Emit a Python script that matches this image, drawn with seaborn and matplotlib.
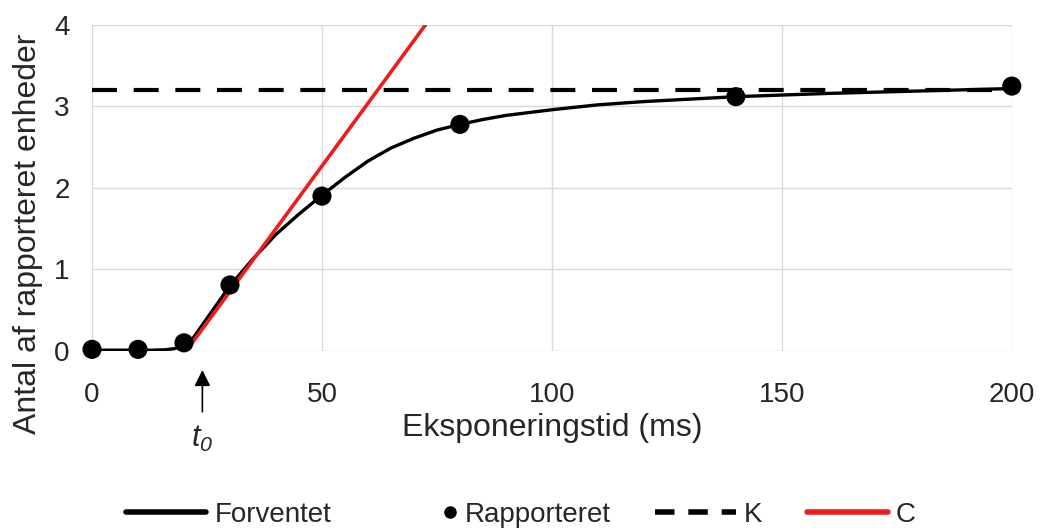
import numpy as np
import pandas as pd
import matplotlib
matplotlib.use("Agg")
import matplotlib.pyplot as plt
from matplotlib.lines import Line2D
from matplotlib.legend_handler import HandlerLine2D
import seaborn as sns

# === Données ===
rap_t = [0, 10, 20, 30, 50, 80, 140, 200]
rap_n = [0.02, 0.02, 0.1, 0.81, 1.9, 2.78, 3.12, 3.25]

forv_t = [0, 5, 10, 13, 16, 18, 20, 22, 25, 28, 30, 35, 40, 45, 50, 55, 60, 65,
          70, 75, 80, 85, 90, 100, 110, 120, 140, 160, 180, 200]
forv_n = [0.01, 0.01, 0.01, 0.01, 0.015, 0.03, 0.07, 0.16, 0.4, 0.64, 0.8, 1.13,
          1.43, 1.68, 1.91, 2.13, 2.33, 2.49, 2.61, 2.71, 2.78, 2.84, 2.89, 2.96,
          3.02, 3.06, 3.12, 3.16, 3.19, 3.22]

k_level = 3.2
c_t = [20.5, 72.5]
c_n = [0.0, 4.0]
t0 = 24

red = '#ee1c1c'


class MarkerRight(HandlerLine2D):
    # point collé au texte, à droite de la poignée
    def get_xdata(self, legend, xdescent, ydescent, width, height, fontsize):
        right = width - xdescent
        return [right - 10, right], [right - 5]


# === Style ===
sns.set_theme(style="whitegrid")
plt.rcParams['font.family'] = ['Liberation Sans', 'DejaVu Sans']
plt.rcParams['mathtext.fontset'] = 'custom'
plt.rcParams['mathtext.it'] = 'Liberation Sans:italic'
plt.rcParams['mathtext.rm'] = 'Liberation Sans:italic'

fig = plt.figure(figsize=(10.42, 5.31), dpi=100)
ax = fig.add_axes([0.0883, 0.339, 0.8827, 0.614])

df_f = pd.DataFrame({'t': forv_t, 'n': forv_n})
df_r = pd.DataFrame({'t': rap_t, 'n': rap_n})
df_c = pd.DataFrame({'t': c_t, 'n': c_n})

sns.lineplot(data=df_f, x='t', y='n', ax=ax, color='black', lw=2.4, zorder=3)
ax.axhline(k_level, color='black', lw=3, dashes=(6, 4), zorder=2)
sns.lineplot(data=df_c, x='t', y='n', ax=ax, color=red, lw=2.6, zorder=4)
sns.scatterplot(data=df_r, x='t', y='n', ax=ax, color='black', s=190,
                edgecolor='none', zorder=5, clip_on=False)

ax.set_xlim(0, 200)
ax.set_ylim(0, 4)
ax.set_xticks([0, 50, 100, 150, 200])
ax.set_yticks([0, 1, 2, 3, 4])
ax.tick_params(axis='x', labelsize=20, pad=22, length=0)
ax.tick_params(axis='y', labelsize=20, pad=16, length=0)
ax.grid(True, color='#d9d9d9', lw=1)
for s in ax.spines.values():
    s.set_visible(False)
ax.set_xlabel("Eksponeringstid (ms)", fontsize=23, labelpad=4)
ax.set_ylabel("Antal af rapporteret enheder", fontsize=23)
ax.yaxis.set_label_coords(-0.053, 0.36)

# flèche t0
ax.annotate("", xy=(t0, -0.2), xytext=(t0, -0.78),
            arrowprops=dict(arrowstyle='-|>', color='black', lw=1.2,
                            mutation_scale=24), annotation_clip=False)
ax.text(t0, -0.9, r"$t_0$", ha='center', va='top', fontsize=22, clip_on=False)

handles = [
    Line2D([], [], color='black', lw=4),
    Line2D([], [], color='black', marker='o', ls='none', markersize=8),
    Line2D([], [], color='black', lw=4, dashes=(3.5, 2.5)),
    Line2D([], [], color=red, lw=4),
]
fig.legend(handles, ["Forventet", "Rapporteret", "K", "C"], loc='center',
           bbox_to_anchor=(0.5, 0.03), ncol=4, frameon=False, fontsize=20,
           handlelength=2.9, handletextpad=0.3, columnspacing=1.6,
           handler_map={handles[1]: MarkerRight(numpoints=1)})

fig.savefig("out.png", dpi=100)
